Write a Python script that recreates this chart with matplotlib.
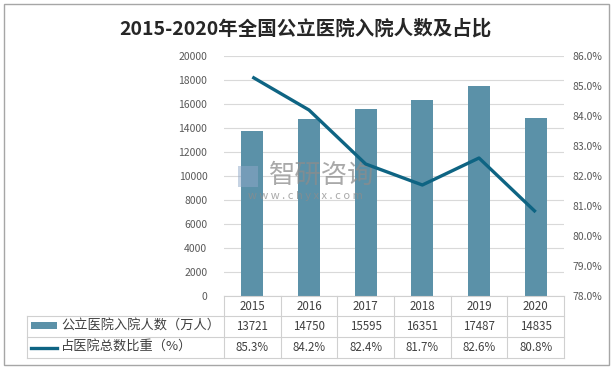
import matplotlib
matplotlib.use("Agg")
import matplotlib.pyplot as plt
from matplotlib.transforms import blended_transform_factory
from matplotlib.patches import Rectangle
from matplotlib.lines import Line2D

plt.rcParams['font.family'] = ['Noto Sans CJK SC', 'DejaVu Sans']

title = "2015-2020年全国公立医院入院人数及占比"
years = ["2015", "2016", "2017", "2018", "2019", "2020"]
admissions = [13721, 14750, 15595, 16351, 17487, 14835]
share = [85.3, 84.2, 82.4, 81.7, 82.6, 80.8]
bar_label = "公立医院入院人数（万人）"
line_label = "占医院总数比重（%）"
left_ticks = list(range(0, 20001, 2000))
right_ticks = [78.0, 79.0, 80.0, 81.0, 82.0, 83.0, 84.0, 85.0, 86.0]

W, H = 613, 368
fig = plt.figure(figsize=(W / 100, H / 100), dpi=100)

def fx(px):
    return px / W

def fy(py):
    return 1 - py / H

bar_color = "#5B91A8"
line_color = "#0E6483"
grid_color = "#D9D9D9"
text_color = "#595959"

ax_l, ax_r, ax_t, ax_b = 224, 564, 56, 296
ax = fig.add_axes([fx(ax_l), fy(ax_b), fx(ax_r - ax_l), (ax_b - ax_t) / H])
x = list(range(len(years)))
ax.bar(x, admissions, width=0.39, color=bar_color, zorder=2)
ax.set_xlim(-0.5, len(years) - 0.5)
ax.set_ylim(0, 20000)
ax.set_yticks(left_ticks)
ax.set_yticklabels([str(t) for t in left_ticks])
ax.tick_params(axis='y', length=0, pad=12, labelsize=7.5, labelcolor=text_color)
ax.set_xticks([])
ax.grid(axis='y', color=grid_color, linewidth=0.8, zorder=0)
for s in ax.spines.values():
    s.set_visible(False)

ax2 = ax.twinx()
ax2.plot(x, share, color=line_color, linewidth=2.4, zorder=3, solid_capstyle='butt')
ax2.set_ylim(78, 86)
ax2.set_yticks(right_ticks)
ax2.set_yticklabels([f"{t:.1f}%" for t in right_ticks])
ax2.tick_params(axis='y', length=0, pad=6, labelsize=7.5, labelcolor=text_color)
for s in ax2.spines.values():
    s.set_visible(False)
ax.set_zorder(1)
ax2.set_zorder(2)
ax2.patch.set_visible(False)

# Title
fig.text(fx(305), fy(29), title, ha='center', va='center', fontsize=14,
         fontweight='bold', color="#262626")

# Outer border
fig.add_artist(Rectangle((fx(4), fy(365)), fx(605), (361) / H, transform=fig.transFigure,
                         fill=False, edgecolor="#A6A6A6", linewidth=1.0))

# Data table
tb = blended_transform_factory(ax.transData, fig.transFigure)
tab_color = "#D0D0D0"
row_tops = [296, 316, 337, 358]
fig.add_artist(Line2D([fx(ax_l), fx(ax_r)], [fy(296), fy(296)], color=tab_color, lw=0.8))
for py in row_tops[1:]:
    fig.add_artist(Line2D([fx(27), fx(ax_r)], [fy(py), fy(py)], color=tab_color, lw=0.8))
for i in range(len(years) + 1):
    xv = i - 0.5
    fig.add_artist(Line2D([xv, xv], [fy(296), fy(358)], color=tab_color, lw=0.8, transform=tb))
fig.add_artist(Line2D([fx(27), fx(27)], [fy(316), fy(358)], color=tab_color, lw=0.8))

row_c = [(296 + 316) / 2, (316 + 337) / 2, (337 + 358) / 2]
for i, yr in enumerate(years):
    fig.text(i, fy(row_c[0]), yr, transform=tb, ha='center', va='center',
             fontsize=8.3, color="#404040")
    fig.text(i, fy(row_c[1]), str(admissions[i]), transform=tb, ha='center', va='center',
             fontsize=8.3, color="#404040")
    fig.text(i, fy(row_c[2]), f"{share[i]:.1f}%", transform=tb, ha='center', va='center',
             fontsize=8.3, color="#404040")

fig.add_artist(Rectangle((fx(31), fy(329)), fx(26), 7 / H, transform=fig.transFigure,
                         facecolor=bar_color, edgecolor='none'))
fig.add_artist(Line2D([fx(31), fx(57)], [fy(347.5), fy(347.5)], color=line_color, lw=2.4))
fig.text(fx(61), fy(row_c[1]), bar_label, ha='left', va='center', fontsize=9.5, color="#404040")
fig.text(fx(61), fy(row_c[2]), line_label, ha='left', va='center', fontsize=9.5, color="#404040")

# Watermark (above bars, below line)
wz = 1.5
fig.add_artist(Rectangle((fx(238), fy(187)), fx(20), 21 / H, transform=fig.transFigure,
                         facecolor="#8FA8C8", edgecolor='none', alpha=0.5, zorder=wz))
fig.text(fx(322), fy(175), "智研咨询", ha='center', va='center', fontsize=19,
         color="#8C8C8C", alpha=0.75, zorder=wz)
fig.text(fx(305), fy(196), "w w w . c h y x x . c o m", ha='center', va='center',
         fontsize=8, color="#8C8C8C", alpha=0.75, zorder=wz)

fig.savefig("out.png", dpi=100)
